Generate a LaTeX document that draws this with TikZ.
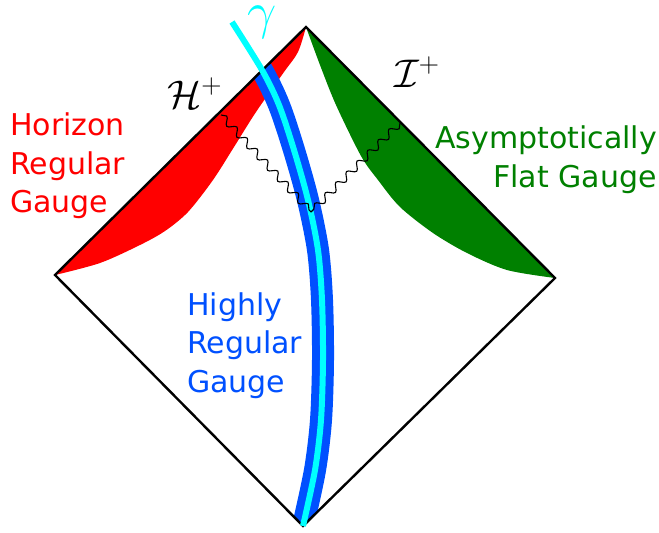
\RequirePackage{fix-cm}
\documentclass[tikz,border=0pt]{standalone}
\usepackage{fontspec}
\newfontfamily\lblfont{DejaVu Sans}
\usetikzlibrary{decorations.pathmorphing}
\definecolor{hblue}{RGB}{0,80,255}
\definecolor{hgreen}{RGB}{0,128,0}
\definecolor{hcyan}{RGB}{0,255,255}
\begin{document}
\begin{tikzpicture}[x=1pt,y=-1pt,
  lbl/.style={font=\lblfont\fontsize{30}{36}\selectfont, inner sep=0pt},
  mathlbl/.style={font=\fontsize{40}{48}\selectfont, inner sep=0pt},
  edgeline/.style={line width=2.4pt, line join=miter},
  wave/.style={decorate, decoration={snake, amplitude=3.5pt, segment length=15pt}, line width=1.1pt}]
\useasboundingbox (0,0) rectangle (659,533);
\coordinate (L) at (55,275);
\coordinate (T) at (306,27);
\coordinate (R) at (555,278);
\coordinate (B) at (303,526);
% red region
\fill[red] (L) -- (T) -- plot[smooth] coordinates {(306,27) (298,52) (284,72) (256,112) (234,147) (213,180) (188,212) (165,231) (140,245) (100,263) (55,275)} -- cycle;
% green region
\fill[hgreen] (T) -- (R) -- plot[smooth] coordinates {(555,278) (507,270) (467,253) (433,233) (400,207) (378,180) (361,156) (336,105) (320,65) (306,27)} -- cycle;
% gamma band
\begin{scope}
\clip (L) -- (T) -- (R) -- (B) -- cycle;
\draw[hblue, line width=22pt] plot[smooth] coordinates {(303,526) (315,470) (321,420) (323,360) (322,300) (318,250) (308,200) (294,150) (279,105) (262,70) (232,22)};
\end{scope}
\draw[edgeline] (L) -- (T) -- (R) -- (B) -- cycle;
\draw[hcyan, line width=6pt] plot[smooth] coordinates {(303,526) (315,470) (321,420) (323,360) (322,300) (318,250) (308,200) (294,150) (279,105) (262,70) (232,22)};
% wavy null rays
\coordinate (S1) at (221,115);
\coordinate (S2) at (400,123);
\coordinate (G) at (311,212);
\draw[wave] (S1) -- (G);
\draw[wave] (S2) -- (G);
% labels
\node[lbl, text=red, anchor=base west] (hr1) at (10,135) {Horizon};
\node[lbl, text=red, anchor=base west] (hr2) at (10,174) {Regular};
\node[lbl, text=red, anchor=base west] (hr3) at (10,212) {Gauge};
\node[lbl, text=hgreen, anchor=base east] (af1) at (657,148) {Asymptotically};
\node[lbl, text=hgreen, anchor=base east] (af2) at (657,187) {Flat Gauge};
\node[lbl, text=hblue, anchor=base west] (hb1) at (187,315) {Highly};
\node[lbl, text=hblue, anchor=base west] (hb2) at (187,353) {Regular};
\node[lbl, text=hblue, anchor=base west] (hb3) at (187,392) {Gauge};
\node[mathlbl, anchor=base west] (hplus) at (167,108) {$\mathcal{H}^+$};
\node[mathlbl, anchor=base west] (iplus) at (394,87) {$\mathcal{I}^+$};
\node[font=\fontsize{52}{60}\selectfont, inner sep=0pt, text=hcyan, anchor=base west] (gam) at (247,28) {$\gamma$};
\end{tikzpicture}
\end{document}
